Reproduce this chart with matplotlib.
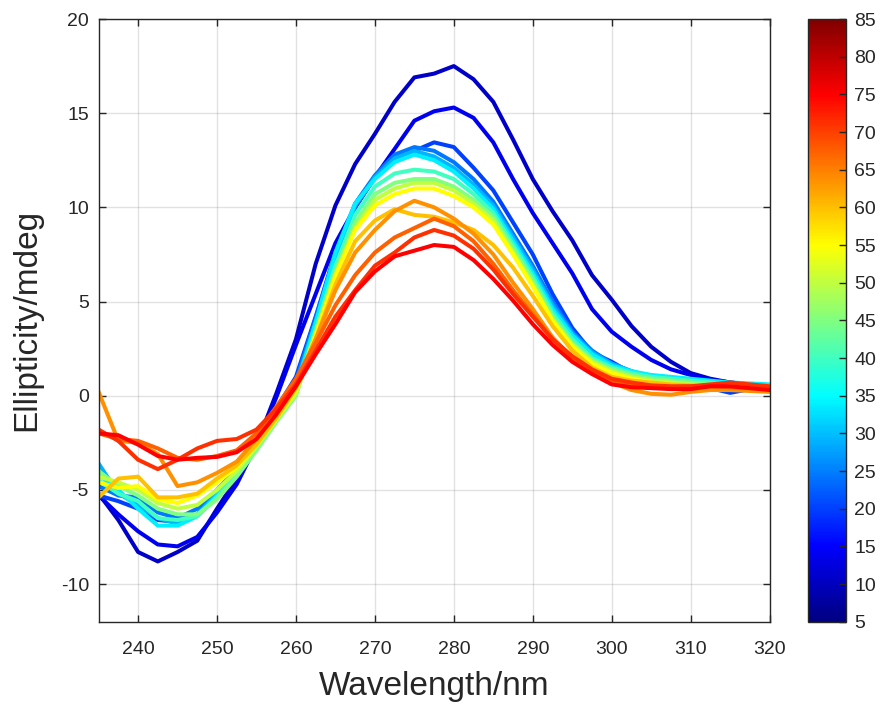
import matplotlib
matplotlib.use("Agg")
import matplotlib.pyplot as plt
import numpy as np
from matplotlib.colors import LinearSegmentedColormap, Normalize
from matplotlib.cm import ScalarMappable

wavelength = [235, 237.5, 240, 242.5, 245, 247.5, 250, 252.5, 255, 257.5,
              260, 262.5, 265, 267.5, 270, 272.5, 275, 277.5, 280, 282.5,
              285, 287.5, 290, 292.5, 295, 297.5, 300, 302.5, 305, 307.5,
              310, 312.5, 315, 317.5, 320]

temperatures = [10, 15, 20, 25, 30, 35, 40, 45, 50, 55, 60, 65, 70, 75, 80]

t10 = [-5.2, -6.6, -8.3, -8.8, -8.3, -7.7, -6.0, -4.4, -2.6, 0.1, 3.0, 7.0, 10.1, 12.3, 13.9, 15.6, 16.9, 17.1, 17.5, 16.8,
       15.6, 13.6, 11.5, 9.8, 8.25, 6.4, 5.1, 3.7, 2.6, 1.8, 1.2, 0.9, 0.7, 0.6, 0.5]
t15 = [-5.3, -6.3, -7.2, -7.9, -8.0, -7.5, -6.2, -4.7, -2.6, -0.1, 2.7, 5.4, 8.1, 10.0, 11.6, 13.1, 14.6, 15.1, 15.3, 14.75,
       13.45, 11.5, 9.7, 8.1, 6.5, 4.6, 3.4, 2.6, 1.9, 1.4, 1.1, 0.85, 0.7, 0.6, 0.5]
t20 = [-5.3, -5.6, -6.0, -6.6, -6.7, -6.3, -5.2, -4.0, -2.4, -0.7, 1.0, 4.2, 7.6, 10.0, 11.6, 12.7, 13.0, 13.45, 13.2, 12.1,
       10.9, 9.2, 7.5, 5.4, 3.6, 2.3, 1.8, 1.2, 0.9, 0.8, 0.8, 0.4, 0.15, 0.35, 0.4]
t25 = [-4.8, -5.3, -5.4, -6.2, -6.5, -6.0, -5.0, -3.9, -2.4, -0.8, 0.8, 4.1, 7.6, 10.2, 11.7, 12.8, 13.2, 13.0, 12.4, 11.5,
       10.3, 8.6, 6.9, 5.0, 3.4, 2.4, 1.7, 1.3, 1.0, 0.85, 0.75, 0.6, 0.5, 0.45, 0.4]
t30 = [-3.6, -5.2, -5.8, -6.5, -6.8, -6.3, -5.2, -4.0, -2.5, -0.9, 0.6, 3.9, 7.4, 10.1, 11.6, 12.6, 13.0, 12.7, 12.1, 11.2,
       10.1, 8.4, 6.7, 4.8, 3.3, 2.3, 1.7, 1.3, 1.0, 0.85, 0.75, 0.7, 0.65, 0.6, 0.55]
t35 = [-4.2, -5.0, -6.0, -6.9, -6.9, -6.4, -5.3, -4.1, -2.7, -1.1, 0.4, 3.9, 7.6, 10.2, 11.5, 12.4, 12.8, 12.5, 11.9, 11.0,
       9.9, 8.2, 6.5, 4.6, 3.2, 2.2, 1.6, 1.3, 1.1, 1.0, 0.9, 0.8, 0.7, 0.65, 0.6]
t40 = [-4.5, -5.2, -5.6, -6.5, -6.6, -6.4, -5.4, -4.2, -2.8, -1.3, 0.2, 3.5, 6.9, 9.6, 11.1, 11.8, 12.0, 11.9, 11.5, 10.7,
       9.7, 8.0, 6.3, 4.4, 3.0, 2.0, 1.5, 1.2, 1.0, 0.9, 0.8, 0.7, 0.6, 0.55, 0.5]
t45 = [-4.0, -4.8, -5.3, -6.0, -6.3, -6.3, -5.5, -4.3, -2.9, -1.4, 0.0, 3.3, 6.6, 9.2, 10.7, 11.3, 11.5, 11.5, 11.1, 10.4,
       9.5, 7.8, 6.1, 4.2, 2.8, 1.9, 1.4, 1.1, 0.9, 0.8, 0.7, 0.6, 0.55, 0.5, 0.5]
t50 = [-4.3, -4.6, -5.0, -5.7, -6.0, -5.8, -5.0, -4.0, -2.7, -1.3, 0.1, 3.2, 6.4, 8.9, 10.4, 11.0, 11.3, 11.3, 10.9, 10.2,
       9.3, 7.6, 5.9, 4.0, 2.7, 1.8, 1.3, 1.0, 0.8, 0.7, 0.6, 0.55, 0.5, 0.5, 0.45]
t55 = [-4.6, -4.9, -4.8, -5.5, -5.7, -5.3, -4.6, -3.8, -2.6, -1.2, 0.3, 3.3, 6.4, 8.8, 10.1, 10.7, 11.0, 11.0, 10.6, 10.0,
       9.1, 7.5, 5.8, 4.0, 2.6, 1.7, 1.2, 0.9, 0.7, 0.6, 0.5, 0.5, 0.5, 0.45, 0.4]
t60 = [-5.4, -4.4, -4.3, -5.4, -5.4, -5.2, -4.4, -3.7, -2.6, -1.2, 0.4, 3.0, 5.9, 8.2, 9.3, 9.9, 9.6, 9.5, 9.2, 8.8,
       8.0, 6.8, 5.3, 3.7, 2.4, 1.5, 1.0, 0.8, 0.7, 0.6, 0.55, 0.5, 0.5, 0.45, 0.4]
t65 = [0.2, -2.4, -2.5, -3.1, -4.8, -4.6, -4.1, -3.5, -2.3, -0.8, 0.7, 3.0, 5.6, 7.6, 8.8, 9.8, 10.35, 10.0, 9.4, 8.6,
       7.5, 6.0, 4.6, 3.1, 2.0, 1.2, 0.7, 0.3, 0.1, 0.05, 0.2, 0.3, 0.3, 0.25, 0.2]
t70 = [-2.0, -2.3, -2.4, -2.8, -3.3, -3.4, -3.2, -2.9, -2.0, -0.6, 0.9, 2.8, 4.8, 6.4, 7.6, 8.4, 8.9, 9.4, 9.0, 8.2,
       7.0, 5.6, 4.3, 3.0, 2.0, 1.3, 0.8, 0.6, 0.5, 0.45, 0.5, 0.5, 0.45, 0.4, 0.35]
t75 = [-1.8, -2.4, -3.4, -3.9, -3.4, -2.8, -2.4, -2.3, -1.8, -0.7, 0.6, 2.4, 4.2, 5.6, 6.9, 7.6, 8.4, 8.8, 8.5, 7.8,
       6.7, 5.4, 4.2, 3.0, 2.1, 1.4, 0.9, 0.7, 0.55, 0.5, 0.5, 0.6, 0.7, 0.6, 0.5]
t80 = [-2.0, -2.1, -2.6, -3.2, -3.4, -3.3, -3.25, -3.0, -2.3, -1.0, 0.5, 2.2, 3.8, 5.5, 6.6, 7.4, 7.7, 8.0, 7.9, 7.2,
       6.2, 5.05, 3.8, 2.7, 1.8, 1.15, 0.6, 0.45, 0.4, 0.35, 0.35, 0.5, 0.5, 0.4, 0.3]

series = [t10, t15, t20, t25, t30, t35, t40, t45, t50, t55, t60, t65, t70, t75, t80]

xticks = [240, 250, 260, 270, 280, 290, 300, 310, 320]
yticks = [-10, -5, 0, 5, 10, 15, 20]
cbar_ticks = [5, 10, 15, 20, 25, 30, 35, 40, 45, 50, 55, 60, 65, 70, 75, 80, 85]

# line colours as they appear in the reference (jet-like)
line_colors = ['#0000C8', '#0000F0', '#0040FF', '#0078FF', '#00B4FF', '#00F0FF',
               '#40FFC0', '#80FF80', '#C0FF40', '#FFFF00', '#FFC000', '#FF9000',
               '#FF6000', '#FF3000', '#FF0000']

# MATLAB-style jet colormap
jet = LinearSegmentedColormap.from_list(
    "mjet",
    [(0.0, (0, 0, 0.5)), (0.125, (0, 0, 1)), (0.375, (0, 1, 1)),
     (0.625, (1, 1, 0)), (0.875, (1, 0, 0)), (1.0, (0.5, 0, 0))], N=256)
norm = Normalize(vmin=5, vmax=85)

txt = (0.15, 0.15, 0.15)
plt.rcParams['font.family'] = ['Liberation Sans', 'DejaVu Sans']

W, H = 887, 708
fig = plt.figure(figsize=(W / 100, H / 100), dpi=100)
ax = fig.add_axes([98.6 / W, 1 - 621.7 / H, (769.6 - 98.6) / W, (621.7 - 19) / H])

for vals, col in zip(series, line_colors):
    ax.plot(wavelength, vals, color=col, lw=2.9, solid_joinstyle='round')

ax.set_xlim(235, 320)
ax.set_ylim(-12, 20)
ax.set_xticks(xticks)
ax.set_yticks(yticks)
ax.set_xticklabels([str(v) for v in xticks], fontsize=14, color=txt)
ax.set_yticklabels([str(v) for v in yticks], fontsize=14, color=txt)
ax.grid(True, color=(0.15, 0.15, 0.15), alpha=0.13, lw=1.0)
ax.set_axisbelow(True)
ax.tick_params(axis='both', direction='in', length=5, width=1, color=txt, top=True, right=True)
ax.tick_params(axis='x', pad=14)
ax.tick_params(axis='y', pad=7)
for s in ax.spines.values():
    s.set_color(txt)
    s.set_linewidth(1.0)
ax.set_xlabel("Wavelength/nm", fontsize=24, color=txt, va='center')
ax.xaxis.set_label_coords(0.5, -0.107)
ax.set_ylabel("Ellipticity/mdeg", fontsize=24, color=txt, va='center')
ax.yaxis.set_label_coords(-0.107, 0.5)

cax = fig.add_axes([808 / W, 1 - 621.7 / H, 38 / W, (621.7 - 19) / H])
cb = fig.colorbar(ScalarMappable(norm=norm, cmap=jet), cax=cax, ticks=cbar_ticks)
cb.ax.tick_params(direction='in', length=5, width=1, color=txt, labelsize=14, labelcolor=txt, pad=6)
cb.outline.set_edgecolor(txt)
cb.outline.set_linewidth(1.0)

fig.savefig("out.png", dpi=100)
